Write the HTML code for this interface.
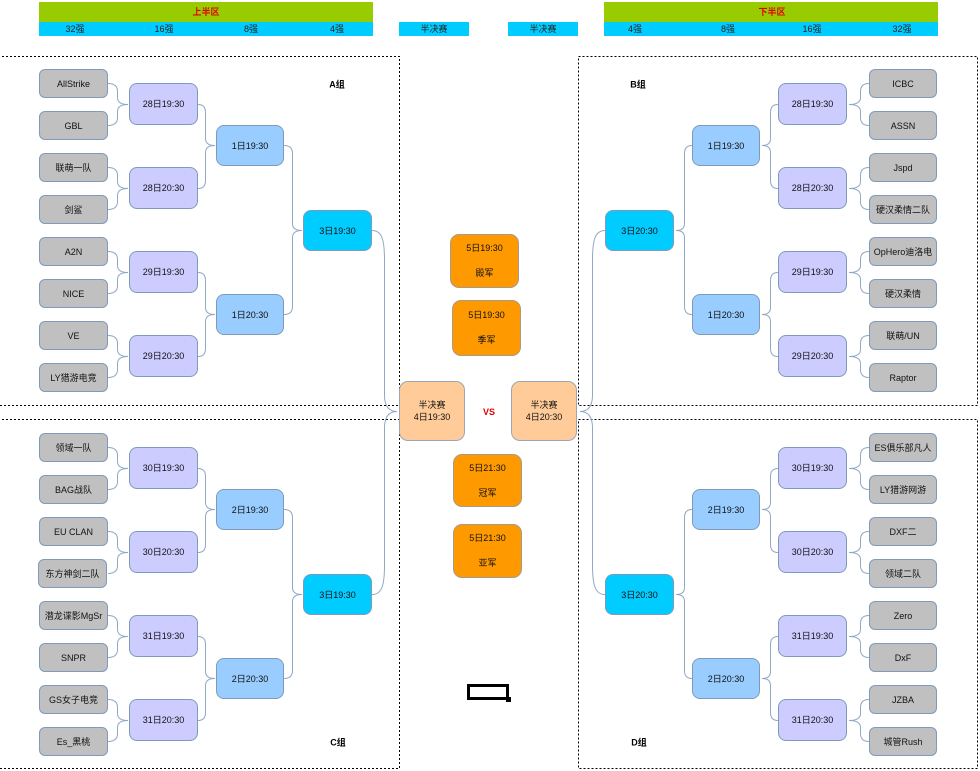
<!DOCTYPE html>
<html><head><meta charset="utf-8"><style>
html,body{margin:0;padding:0;background:#fff}
body{width:980px;height:771px;position:relative;overflow:hidden;font-family:"Liberation Sans","Noto Sans CJK SC",sans-serif}
.b{position:absolute;box-sizing:border-box;display:flex;align-items:center;justify-content:center;text-align:center;font-size:9px;color:#111;border:1px solid #7f9bbb;white-space:nowrap;line-height:12px}
.t{background:#c0c0c0;border-radius:6px;width:69px;height:29px}
.r1{background:#ccccff;border-radius:8px;width:69px;height:42px}
.r2{background:#99ccff;border-radius:8px;width:68px;height:41px}
.r3{background:#00ccff;border-radius:8px;width:69px;height:41px}
.o{background:#ff9900;border-radius:9px;width:69px;height:54px;border-color:#a59a8c;flex-direction:column;line-height:25px}
.s{background:#ffcc99;border-radius:9px;width:66px;height:60px;border-color:#9aa6b6;flex-direction:column;line-height:12px}
.h{position:absolute;font-size:9px;color:#222;transform:translateX(-50%);white-space:nowrap;line-height:14px}
.g{position:absolute;font-size:9px;font-weight:bold;color:#000;transform:translate(-50%,-50%);white-space:nowrap}
</style></head><body>
<!-- header -->
<div style="position:absolute;left:39px;top:2px;width:334px;height:20px;background:#99cc00"></div>
<div style="position:absolute;left:39px;top:22px;width:334px;height:14px;background:#00ccff"></div>
<div style="position:absolute;left:604px;top:2px;width:334px;height:20px;background:#99cc00"></div>
<div style="position:absolute;left:604px;top:22px;width:334px;height:14px;background:#00ccff"></div>
<div style="position:absolute;left:399px;top:22px;width:70px;height:14px;background:#00ccff"></div>
<div style="position:absolute;left:508px;top:22px;width:70px;height:14px;background:#00ccff"></div>
<div class="h" style="left:206px;top:5px;color:#e00000;font-weight:bold">上半区</div>
<div class="h" style="left:772px;top:5px;color:#e00000;font-weight:bold">下半区</div>
<div class="h" style="left:75px;top:22px">32强</div>
<div class="h" style="left:164px;top:22px">16强</div>
<div class="h" style="left:251px;top:22px">8强</div>
<div class="h" style="left:337px;top:22px">4强</div>
<div class="h" style="left:434px;top:22px">半决赛</div>
<div class="h" style="left:543px;top:22px">半决赛</div>
<div class="h" style="left:635px;top:22px">4强</div>
<div class="h" style="left:728px;top:22px">8强</div>
<div class="h" style="left:812px;top:22px">16强</div>
<div class="h" style="left:902px;top:22px">32强</div>

<svg width="980" height="771" style="position:absolute;left:0;top:0" xmlns="http://www.w3.org/2000/svg">
<g fill="none" stroke="#000" stroke-width="1" stroke-dasharray="2 2">
<rect x="-2" y="56.5" width="401.5" height="349"/>
<rect x="-2" y="419.5" width="401.5" height="349"/>
<rect x="578.5" y="56.5" width="399" height="349"/>
<rect x="578.5" y="419.5" width="399" height="349"/>
</g>
<g fill="none" stroke="#8fa8c4" stroke-width="1">
<!-- A -->
<path d="M108 83.5Q117.5 83.5 117.5 91.5V97.5Q117.5 104.5 128 104.5M108 125.5Q117.5 125.5 117.5 117.5V111.5Q117.5 104.5 128 104.5"/>
<path d="M108 167.5Q117.5 167.5 117.5 175.5V181.5Q117.5 188.5 128 188.5M108 209.5Q117.5 209.5 117.5 201.5V195.5Q117.5 188.5 128 188.5"/>
<path d="M108 251.5Q117.5 251.5 117.5 259.5V265.5Q117.5 272.5 128 272.5M108 293.5Q117.5 293.5 117.5 285.5V279.5Q117.5 272.5 128 272.5"/>
<path d="M108 335.5Q117.5 335.5 117.5 343.5V349.5Q117.5 356.5 128 356.5M108 377.5Q117.5 377.5 117.5 369.5V363.5Q117.5 356.5 128 356.5"/>
<path d="M198 104.5Q205.5 104.5 205.5 112.5V138.5Q205.5 145.5 215 145.5M198 188.5Q205.5 188.5 205.5 180.5V152.5Q205.5 145.5 215 145.5"/>
<path d="M198 272.5Q205.5 272.5 205.5 280.5V307.5Q205.5 314.5 215 314.5M198 356.5Q205.5 356.5 205.5 348.5V321.5Q205.5 314.5 215 314.5"/>
<path d="M284 145.5Q292.5 145.5 292.5 153.5V223.5Q292.5 230.5 302 230.5M284 314.5Q292.5 314.5 292.5 306.5V237.5Q292.5 230.5 302 230.5"/>
<!-- C -->
<path d="M108 447.5Q117.5 447.5 117.5 455.5V461.5Q117.5 468.5 128 468.5M108 489.5Q117.5 489.5 117.5 481.5V475.5Q117.5 468.5 128 468.5"/>
<path d="M108 531.5Q117.5 531.5 117.5 539.5V545.5Q117.5 552.5 128 552.5M108 573.5Q117.5 573.5 117.5 565.5V559.5Q117.5 552.5 128 552.5"/>
<path d="M108 615.5Q117.5 615.5 117.5 623.5V629.5Q117.5 636.5 128 636.5M108 657.5Q117.5 657.5 117.5 649.5V643.5Q117.5 636.5 128 636.5"/>
<path d="M108 699.5Q117.5 699.5 117.5 707.5V713.5Q117.5 720.5 128 720.5M108 741.5Q117.5 741.5 117.5 733.5V727.5Q117.5 720.5 128 720.5"/>
<path d="M198 468.5Q205.5 468.5 205.5 476.5V502.5Q205.5 509.5 215 509.5M198 552.5Q205.5 552.5 205.5 544.5V516.5Q205.5 509.5 215 509.5"/>
<path d="M198 636.5Q205.5 636.5 205.5 644.5V671.5Q205.5 678.5 215 678.5M198 720.5Q205.5 720.5 205.5 712.5V685.5Q205.5 678.5 215 678.5"/>
<path d="M284 509.5Q292.5 509.5 292.5 517.5V587.5Q292.5 594.5 302 594.5M284 678.5Q292.5 678.5 292.5 670.5V601.5Q292.5 594.5 302 594.5"/>
<!-- left semi -->
<path d="M372 230.5C382 230.5 384.5 240 384.5 260V395Q384.5 411.5 397 411.5M372 594.5C382 594.5 384.5 585 384.5 565V428Q384.5 411.5 397 411.5"/>
<!-- B -->
<path d="M869 83.5Q860.5 83.5 860.5 91.5V97.5Q860.5 104.5 849 104.5M869 125.5Q860.5 125.5 860.5 117.5V111.5Q860.5 104.5 849 104.5"/>
<path d="M869 167.5Q860.5 167.5 860.5 175.5V181.5Q860.5 188.5 849 188.5M869 209.5Q860.5 209.5 860.5 201.5V195.5Q860.5 188.5 849 188.5"/>
<path d="M869 251.5Q860.5 251.5 860.5 259.5V265.5Q860.5 272.5 849 272.5M869 293.5Q860.5 293.5 860.5 285.5V279.5Q860.5 272.5 849 272.5"/>
<path d="M869 335.5Q860.5 335.5 860.5 343.5V349.5Q860.5 356.5 849 356.5M869 377.5Q860.5 377.5 860.5 369.5V363.5Q860.5 356.5 849 356.5"/>
<path d="M778 104.5Q770.5 104.5 770.5 112.5V138.5Q770.5 145.5 762 145.5M778 188.5Q770.5 188.5 770.5 180.5V152.5Q770.5 145.5 762 145.5"/>
<path d="M778 272.5Q770.5 272.5 770.5 280.5V307.5Q770.5 314.5 762 314.5M778 356.5Q770.5 356.5 770.5 348.5V321.5Q770.5 314.5 762 314.5"/>
<path d="M692 145.5Q684.5 145.5 684.5 153.5V223.5Q684.5 230.5 676 230.5M692 314.5Q684.5 314.5 684.5 306.5V237.5Q684.5 230.5 676 230.5"/>
<!-- D -->
<path d="M869 447.5Q860.5 447.5 860.5 455.5V461.5Q860.5 468.5 849 468.5M869 489.5Q860.5 489.5 860.5 481.5V475.5Q860.5 468.5 849 468.5"/>
<path d="M869 531.5Q860.5 531.5 860.5 539.5V545.5Q860.5 552.5 849 552.5M869 573.5Q860.5 573.5 860.5 565.5V559.5Q860.5 552.5 849 552.5"/>
<path d="M869 615.5Q860.5 615.5 860.5 623.5V629.5Q860.5 636.5 849 636.5M869 657.5Q860.5 657.5 860.5 649.5V643.5Q860.5 636.5 849 636.5"/>
<path d="M869 699.5Q860.5 699.5 860.5 707.5V713.5Q860.5 720.5 849 720.5M869 741.5Q860.5 741.5 860.5 733.5V727.5Q860.5 720.5 849 720.5"/>
<path d="M778 468.5Q770.5 468.5 770.5 476.5V502.5Q770.5 509.5 762 509.5M778 552.5Q770.5 552.5 770.5 544.5V516.5Q770.5 509.5 762 509.5"/>
<path d="M778 636.5Q770.5 636.5 770.5 644.5V671.5Q770.5 678.5 762 678.5M778 720.5Q770.5 720.5 770.5 712.5V685.5Q770.5 678.5 762 678.5"/>
<path d="M692 509.5Q684.5 509.5 684.5 517.5V587.5Q684.5 594.5 676 594.5M692 678.5Q684.5 678.5 684.5 670.5V601.5Q684.5 594.5 676 594.5"/>
<!-- right semi -->
<path d="M605 230.5C595 230.5 592.5 240 592.5 260V395Q592.5 411.5 580 411.5M605 594.5C595 594.5 592.5 585 592.5 565V428Q592.5 411.5 580 411.5"/>
</g>
</svg>

<!-- group labels -->
<div class="g" style="left:337px;top:84px">A组</div>
<div class="g" style="left:638px;top:84px">B组</div>
<div class="g" style="left:338px;top:742px">C组</div>
<div class="g" style="left:639px;top:742px">D组</div>

<!-- A teams -->
<div class="b t" style="left:39px;top:69px">AllStrike</div>
<div class="b t" style="left:39px;top:111px">GBL</div>
<div class="b t" style="left:39px;top:153px">联萌一队</div>
<div class="b t" style="left:39px;top:195px">剑鲨</div>
<div class="b t" style="left:39px;top:237px">A2N</div>
<div class="b t" style="left:39px;top:279px">NICE</div>
<div class="b t" style="left:39px;top:321px">VE</div>
<div class="b t" style="left:39px;top:363px">LY猎游电竞</div>
<div class="b r1" style="left:129px;top:83px">28日19:30</div>
<div class="b r1" style="left:129px;top:167px">28日20:30</div>
<div class="b r1" style="left:129px;top:251px">29日19:30</div>
<div class="b r1" style="left:129px;top:335px">29日20:30</div>
<div class="b r2" style="left:216px;top:125px">1日19:30</div>
<div class="b r2" style="left:216px;top:294px">1日20:30</div>
<div class="b r3" style="left:303px;top:210px">3日19:30</div>

<!-- C teams -->
<div class="b t" style="left:39px;top:433px">领域一队</div>
<div class="b t" style="left:39px;top:475px">BAG战队</div>
<div class="b t" style="left:39px;top:517px">EU CLAN</div>
<div class="b t" style="left:38px;top:559px">东方神剑二队</div>
<div class="b t" style="left:39px;top:601px">潜龙谍影MgSr</div>
<div class="b t" style="left:39px;top:643px">SNPR</div>
<div class="b t" style="left:39px;top:685px">GS女子电竞</div>
<div class="b t" style="left:39px;top:727px">Es_黑桃</div>
<div class="b r1" style="left:129px;top:447px">30日19:30</div>
<div class="b r1" style="left:129px;top:531px">30日20:30</div>
<div class="b r1" style="left:129px;top:615px">31日19:30</div>
<div class="b r1" style="left:129px;top:699px">31日20:30</div>
<div class="b r2" style="left:216px;top:489px">2日19:30</div>
<div class="b r2" style="left:216px;top:658px">2日20:30</div>
<div class="b r3" style="left:303px;top:574px">3日19:30</div>

<!-- B teams -->
<div class="b t" style="left:869px;top:69px;width:68px">ICBC</div>
<div class="b t" style="left:869px;top:111px;width:68px">ASSN</div>
<div class="b t" style="left:869px;top:153px;width:68px">Jspd</div>
<div class="b t" style="left:869px;top:195px;width:68px">硬汉柔情二队</div>
<div class="b t" style="left:869px;top:237px;width:68px">OpHero迪洛电</div>
<div class="b t" style="left:869px;top:279px;width:68px">硬汉柔情</div>
<div class="b t" style="left:869px;top:321px;width:68px">联萌/UN</div>
<div class="b t" style="left:869px;top:363px;width:68px">Raptor</div>
<div class="b r1" style="left:778px;top:83px">28日19:30</div>
<div class="b r1" style="left:778px;top:167px">28日20:30</div>
<div class="b r1" style="left:778px;top:251px">29日19:30</div>
<div class="b r1" style="left:778px;top:335px">29日20:30</div>
<div class="b r2" style="left:692px;top:125px">1日19:30</div>
<div class="b r2" style="left:692px;top:294px">1日20:30</div>
<div class="b r3" style="left:605px;top:210px">3日20:30</div>

<!-- D teams -->
<div class="b t" style="left:869px;top:433px;width:68px">ES俱乐部凡人</div>
<div class="b t" style="left:869px;top:475px;width:68px">LY猎游网游</div>
<div class="b t" style="left:869px;top:517px;width:68px">DXF二</div>
<div class="b t" style="left:869px;top:559px;width:68px">领域二队</div>
<div class="b t" style="left:869px;top:601px;width:68px">Zero</div>
<div class="b t" style="left:869px;top:643px;width:68px">DxF</div>
<div class="b t" style="left:869px;top:685px;width:68px">JZBA</div>
<div class="b t" style="left:869px;top:727px;width:68px">城管Rush</div>
<div class="b r1" style="left:778px;top:447px">30日19:30</div>
<div class="b r1" style="left:778px;top:531px">30日20:30</div>
<div class="b r1" style="left:778px;top:615px">31日19:30</div>
<div class="b r1" style="left:778px;top:699px">31日20:30</div>
<div class="b r2" style="left:692px;top:489px">2日19:30</div>
<div class="b r2" style="left:692px;top:658px">2日20:30</div>
<div class="b r3" style="left:605px;top:574px">3日20:30</div>

<!-- center -->
<div class="b o" style="left:450px;top:234px"><span>5日19:30</span><span>殿军</span></div>
<div class="b o" style="left:452px;top:300px;height:56px"><span>5日19:30</span><span>季军</span></div>
<div class="b o" style="left:453px;top:454px;height:53px"><span>5日21:30</span><span>冠军</span></div>
<div class="b o" style="left:453px;top:524px"><span>5日21:30</span><span>亚军</span></div>
<div class="b s" style="left:399px;top:381px"><span>半决赛</span><span>4日19:30</span></div>
<div class="b s" style="left:511px;top:381px"><span>半决赛</span><span>4日20:30</span></div>
<div class="g" style="left:489px;top:412px;color:#e00000">VS</div>

<div style="position:absolute;left:467px;top:684px;width:42px;height:16px;box-sizing:border-box;border:3px solid #000"></div>
<div style="position:absolute;left:506px;top:697px;width:5px;height:5px;background:#000"></div>
</body></html>
